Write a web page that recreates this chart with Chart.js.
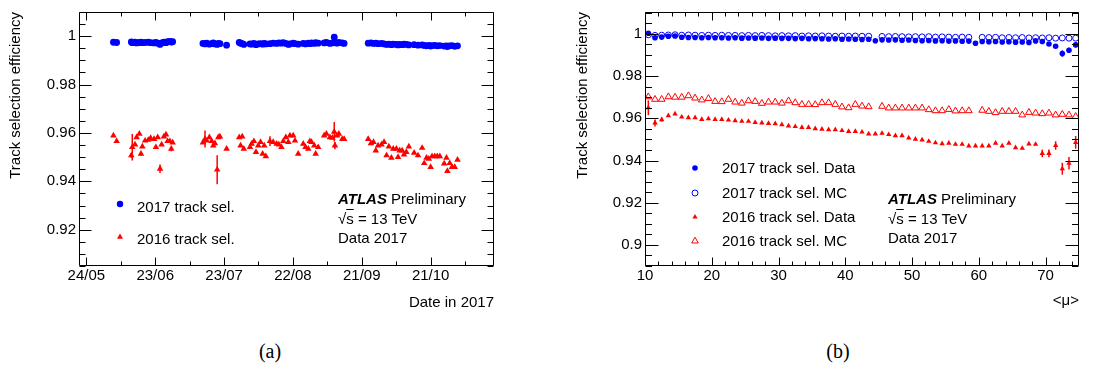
<!DOCTYPE html>
<html>
<head>
<meta charset="utf-8">
<script src="https://cdn.jsdelivr.net/npm/chart.js@4.4.1/dist/chart.umd.min.js"></script>
<style>
  html, body { margin: 0; padding: 0; background: #fff; }
  #page { position: relative; width: 1093px; height: 365px; overflow: hidden; font-family: "Liberation Sans", Arial, sans-serif; color: #000; }
  canvas { position: absolute; top: 0; }
  #chartA { left: 0; }
  #chartB { left: 560px; }
  .txt { position: absolute; font-size: 15px; line-height: 18px; white-space: nowrap; }
  .atlas { font-weight: bold; font-style: italic; }
  .ovl { text-decoration: overline; }
  .mk { position: absolute; width: 10px; height: 10px; }
  .cap { position: absolute; font-family: "Liberation Serif", "Times New Roman", serif; font-size: 20px; line-height: 24px; width: 60px; text-align: center; }
</style>
</head>
<body>
<div id="page">
  <canvas id="chartA" width="546" height="320"></canvas>
  <canvas id="chartB" width="533" height="320"></canvas>

  <!-- panel (a) legend + label -->
  <svg class="mk" style="left:115px; top:199px"><circle cx="5" cy="5" r="3.2" fill="#0000ff"/></svg>
  <div class="txt" style="left:137px; top:198px">2017 track sel.</div>
  <svg class="mk" style="left:115px; top:232px"><polygon points="5,1.6 8,6.8 2,6.8" fill="#ff0000"/></svg>
  <div class="txt" style="left:137px; top:230px">2016 track sel.</div>
  <div class="txt" style="left:338px; top:190px"><span class="atlas">ATLAS</span> Preliminary</div>
  <div class="txt" style="left:338px; top:210px">√<span class="ovl">s</span> = 13 TeV</div>
  <div class="txt" style="left:338px; top:229px">Data 2017</div>

  <!-- panel (b) legend + label -->
  <svg class="mk" style="left:690px; top:163px"><circle cx="5" cy="5" r="2.8" fill="#0000ff"/></svg>
  <div class="txt" style="left:722px; top:159px">2017 track sel. Data</div>
  <svg class="mk" style="left:690px; top:188px"><circle cx="5" cy="5" r="3" fill="none" stroke="#0000ff" stroke-width="1"/></svg>
  <div class="txt" style="left:722px; top:184px">2017 track sel. MC</div>
  <svg class="mk" style="left:690px; top:212px"><polygon points="5,2 7.6,6.5 2.4,6.5" fill="#ff0000"/></svg>
  <div class="txt" style="left:722px; top:208px">2016 track sel. Data</div>
  <svg class="mk" style="left:690px; top:236px"><polygon points="5,1.2 8.3,7 1.7,7" fill="none" stroke="#ff0000" stroke-width="1"/></svg>
  <div class="txt" style="left:722px; top:232px">2016 track sel. MC</div>
  <div class="txt" style="left:888px; top:190px"><span class="atlas">ATLAS</span> Preliminary</div>
  <div class="txt" style="left:888px; top:210px">√<span class="ovl">s</span> = 13 TeV</div>
  <div class="txt" style="left:888px; top:229px">Data 2017</div>

  <div class="cap" style="left:240px; top:339px">(a)</div>
  <div class="cap" style="left:808px; top:339px">(b)</div>
</div>

<script>
const FONT = '"Liberation Sans", Arial, sans-serif';
const BLUE = '#0000ff';
const RED = '#ff0000';

// ---- panel (a): per-run efficiency, x = days after 24/05/2017 ----
const dateTickDays = [0, 30, 60, 90, 120, 150];
const dateTickLabels = ['24/05', '23/06', '23/07', '22/08', '21/09', '21/10'];
const effTickValuesA = [0.92, 0.94, 0.96, 0.98, 1.0];
const effTickLabelsA = ['0.92', '0.94', '0.96', '0.98', '1'];

const runDay = [
  11.8, 13.2,
  19.6, 20.0, 21.2, 21.9, 23.1, 23.8, 24.4, 25.6, 27.0, 28.0, 29.5, 30.3, 31.1, 32.1, 32.8, 33.8, 34.7, 35.4, 36.4, 37.0, 37.6,
  50.8, 51.7, 52.4, 53.6, 54.6, 55.3, 56.0, 57.0, 57.5, 58.2, 61.1,
  66.6, 67.2, 67.9, 68.6, 71.3, 72.0, 73.0, 73.9, 74.9, 75.9, 76.8, 77.5, 78.2, 80.0, 81.4, 82.9, 83.9, 85.0, 85.8, 86.9,
  88.0, 88.7, 90.1, 90.9, 92.3, 94.5, 95.5, 96.7, 97.4, 98.1, 99.3, 99.9, 101.0, 103.6, 104.6, 106.1, 107.2, 108.0, 108.3,
  109.2, 110.0, 111.5, 112.3,
  122.8, 124.0, 125.1, 126.1, 127.1, 128.6, 129.7, 130.8, 131.8, 132.9, 133.7, 135.1, 135.8, 136.5, 137.6, 138.4, 139.4,
  140.5, 142.8, 144.5, 146.3, 147.2, 148.2, 149.2, 150.0, 150.6, 151.8, 152.9, 154.0, 155.9, 156.9, 157.3, 158.3, 159.3,
  160.5, 161.7
];
const runEff2017 = [
  0.9975, 0.9974,
  0.9976, 0.9973, 0.9975, 0.9972, 0.9974, 0.9975, 0.9973, 0.9974, 0.9975, 0.9973, 0.9972, 0.9974, 0.9971, 0.9966, 0.9972,
  0.9975, 0.9973, 0.9977, 0.9978, 0.9976, 0.9977,
  0.9970, 0.9968, 0.9971, 0.9967, 0.9969, 0.9972, 0.9968, 0.9966, 0.9970, 0.9969, 0.9963,
  0.9974, 0.9971, 0.9969, 0.9966, 0.9968, 0.9967, 0.9970, 0.9965, 0.9968, 0.9969, 0.9967, 0.9970, 0.9968, 0.9969, 0.9971,
  0.9970, 0.9972, 0.9971, 0.9973, 0.9970, 0.9966, 0.9968, 0.9971, 0.9969, 0.9967, 0.9970, 0.9968, 0.9971, 0.9969, 0.9972,
  0.9970, 0.9973, 0.9971, 0.9972, 0.9974, 0.9970, 0.9972, 0.9996, 0.9973, 0.9971, 0.9974, 0.9972, 0.9970,
  0.9971, 0.9972, 0.9970, 0.9971, 0.9969, 0.9970, 0.9968, 0.9966, 0.9967, 0.9965, 0.9967, 0.9966, 0.9964, 0.9966, 0.9965,
  0.9967, 0.9966, 0.9964, 0.9965, 0.9963, 0.9964, 0.9962, 0.9960, 0.9962, 0.9959, 0.9961, 0.9962, 0.9960, 0.9961, 0.9959,
  0.9960, 0.9957, 0.9960, 0.9961, 0.9958, 0.9960
];
const runErr2017 = [
  0, 0,
  0, 0, 0, 0, 0, 0, 0, 0, 0, 0, 0, 0, 0, 0.0006, 0, 0, 0, 0, 0, 0, 0,
  0, 0, 0, 0, 0, 0, 0, 0.0006, 0, 0, 0,
  0, 0, 0, 0, 0, 0, 0, 0, 0, 0, 0, 0, 0, 0, 0, 0, 0, 0, 0, 0, 0, 0, 0, 0, 0, 0, 0, 0, 0, 0, 0, 0, 0, 0, 0, 0, 0, 0.0004, 0,
  0, 0, 0, 0,
  0, 0, 0, 0, 0, 0, 0, 0, 0, 0, 0, 0, 0, 0, 0, 0, 0, 0, 0, 0, 0, 0, 0, 0, 0, 0, 0, 0, 0, 0, 0, 0, 0, 0, 0, 0.0004
];
const runEff2016 = [
  0.9589, 0.9566,
  0.9507, 0.9541, 0.9552, 0.9582, 0.9596, 0.9514, 0.9544, 0.9568, 0.9571, 0.9579, 0.9575, 0.9541, 0.9582, 0.9452, 0.9552,
  0.9585, 0.9593, 0.9566, 0.9566, 0.9534, 0.9560,
  0.9560, 0.9575, 0.9568, 0.9582, 0.9566, 0.9548, 0.9557, 0.9448, 0.9582, 0.9585, 0.9534,
  0.9582, 0.9548, 0.9585, 0.9534, 0.9541, 0.9555, 0.9566, 0.9521, 0.9548, 0.9562, 0.9514, 0.9548, 0.9503, 0.9566, 0.9562,
  0.9555, 0.9552, 0.9541, 0.9566, 0.9582, 0.9562, 0.9589, 0.9589, 0.9568, 0.9514, 0.9555, 0.9541, 0.9534, 0.9566, 0.9562,
  0.9548, 0.9514, 0.9541, 0.9589, 0.9596, 0.9582, 0.9580, 0.9605, 0.9548, 0.9589, 0.9596, 0.9575, 0.9575,
  0.9575, 0.9557, 0.9562, 0.9527, 0.9548, 0.9552, 0.9562, 0.9507, 0.9544, 0.9497, 0.9534, 0.9534, 0.9500, 0.9527, 0.9527,
  0.9511, 0.9521, 0.9544, 0.9518, 0.9507, 0.9538, 0.9475, 0.9497, 0.9493, 0.9459, 0.9503, 0.9503, 0.9503, 0.9503, 0.9473,
  0.9497, 0.9442, 0.9475, 0.9459, 0.9459, 0.9489
];
const runErr2016 = [
  0, 0,
  0.0010, 0.0055, 0, 0, 0, 0.0008, 0, 0, 0, 0, 0, 0, 0, 0.0018, 0, 0, 0, 0, 0, 0.0010, 0,
  0, 0.0035, 0, 0, 0, 0, 0, 0.0060, 0, 0, 0,
  0, 0, 0, 0, 0, 0, 0, 0, 0, 0, 0, 0, 0, 0.0020, 0, 0, 0, 0, 0, 0, 0, 0, 0, 0, 0, 0, 0, 0, 0, 0, 0, 0, 0, 0, 0, 0, 0,
  0.0040, 0.0015, 0, 0, 0, 0,
  0, 0, 0, 0, 0, 0, 0, 0, 0, 0, 0, 0, 0, 0, 0, 0, 0, 0, 0, 0, 0, 0, 0, 0, 0, 0, 0, 0, 0, 0, 0, 0.0008, 0, 0, 0, 0
];

// ---- panel (b): efficiency vs <mu>, one point per unit bin ----
const muBins = [
  10.5, 11.5, 12.5, 13.5, 14.5, 15.5, 16.5, 17.5, 18.5, 19.5, 20.5, 21.5, 22.5, 23.5, 24.5, 25.5, 26.5, 27.5, 28.5, 29.5,
  30.5, 31.5, 32.5, 33.5, 34.5, 35.5, 36.5, 37.5, 38.5, 39.5, 40.5, 41.5, 42.5, 43.5, 44.5, 45.5, 46.5, 47.5, 48.5, 49.5,
  50.5, 51.5, 52.5, 53.5, 54.5, 55.5, 56.5, 57.5, 58.5, 59.5, 60.5, 61.5, 62.5, 63.5, 64.5, 65.5, 66.5, 67.5, 68.5, 69.5,
  70.5, 71.5, 72.5, 73.5, 74.5
];
const muTickValues = [10, 20, 30, 40, 50, 60, 70];
const muTickLabels = ['10', '20', '30', '40', '50', '60', '70'];
const effTickValuesB = [0.9, 0.92, 0.94, 0.96, 0.98, 1.0];
const effTickLabelsB = ['0.9', '0.92', '0.94', '0.96', '0.98', '1'];

const mu2017Data = [
  1.0003, 0.9982, 0.9985, 0.9989, 0.9990, 0.9984, 0.9983, 0.9983, 0.9982, 0.9983,
  0.9982, 0.9982, 0.9981, 0.9982, 0.9980, 0.9981, 0.9980, 0.9981, 0.9979, 0.9980,
  0.9979, 0.9979, 0.9978, 0.9979, 0.9977, 0.9978, 0.9977, 0.9976, 0.9977, 0.9975,
  0.9976, 0.9975, 0.9974, 0.9975, 0.9968, 0.9972, 0.9971, 0.9972, 0.9970, 0.9971,
  0.9969, 0.9968, 0.9969, 0.9967, 0.9968, 0.9966, 0.9967, 0.9965, 0.9966, 0.9956,
  0.9964, 0.9963, 0.9964, 0.9962, 0.9963, 0.9961, 0.9962, 0.9960, 0.9967, 0.9964,
  0.9952, 0.9942, 0.9907, 0.9923, 0.9948
];
const mu2017DataErr = [
  0.0008, 0, 0, 0, 0, 0, 0, 0, 0, 0, 0, 0, 0, 0, 0, 0, 0, 0, 0, 0, 0, 0, 0, 0, 0, 0, 0, 0, 0, 0, 0, 0, 0, 0, 0, 0, 0, 0, 0, 0,
  0, 0, 0, 0, 0, 0, 0, 0, 0, 0, 0, 0, 0, 0, 0, 0, 0, 0, 0, 0, 0.0004, 0.0006, 0.0015, 0.0012, 0.0012
];
const mu2017MC = [
  0.9996, 0.9993, 0.9994, 0.9995, 0.9996, 0.9994, 0.9995, 0.9994, 0.9993, 0.9994,
  0.9993, 0.9994, 0.9993, 0.9993, 0.9992, 0.9993, 0.9992, 0.9993, 0.9992, 0.9991,
  0.9992, 0.9991, 0.9992, 0.9990, 0.9991, 0.9990, 0.9991, 0.9990, 0.9989, 0.9990,
  0.9989, 0.9990, 0.9989, 0.9989, null, 0.9988, 0.9987, 0.9988, 0.9987, 0.9986,
  0.9987, 0.9986, 0.9987, 0.9985, 0.9986, 0.9985, 0.9984, 0.9985, 0.9984, null,
  0.9984, 0.9983, 0.9984, 0.9982, 0.9983, 0.9982, 0.9983, 0.9981, 0.9982, 0.9981,
  0.9982, 0.9980, 0.9981, 0.9980, 0.9980
];
const mu2016Data = [
  0.9650, 0.9578, 0.9594, 0.9613, 0.9621, 0.9606, 0.9603, 0.9603, 0.9595, 0.9598,
  0.9595, 0.9595, 0.9592, 0.9589, 0.9586, 0.9586, 0.9581, 0.9578, 0.9576, 0.9575,
  0.9570, 0.9564, 0.9561, 0.9557, 0.9557, 0.9551, 0.9549, 0.9546, 0.9546, 0.9542,
  0.9538, 0.9538, 0.9535, 0.9526, 0.9526, 0.9529, 0.9523, 0.9518, 0.9518, 0.9507,
  0.9501, 0.9498, 0.9491, 0.9484, 0.9480, 0.9482, 0.9477, 0.9477, 0.9469, 0.9469,
  0.9469, 0.9469, 0.9482, 0.9469, 0.9482, 0.9461, 0.9458, 0.9479, 0.9477, 0.9434,
  0.9434, 0.9471, 0.9361, 0.9387, 0.9486
];
const mu2016DataErr = [
  0.0035, 0.0017, 0.0010, 0, 0, 0, 0, 0, 0, 0, 0, 0, 0, 0, 0, 0, 0, 0, 0, 0, 0, 0, 0, 0, 0, 0, 0, 0, 0, 0, 0, 0, 0, 0, 0, 0,
  0, 0, 0, 0, 0, 0, 0, 0, 0, 0, 0, 0, 0, 0, 0, 0, 0, 0, 0, 0, 0, 0, 0, 0.0018, 0.0018, 0.0020, 0.0028, 0.0030, 0.0030
];
const mu2016MC = [
  0.9702, 0.9690, 0.9690, 0.9702, 0.9700, 0.9700, 0.9707, 0.9696, 0.9687, 0.9694,
  0.9680, 0.9679, 0.9690, 0.9677, 0.9672, 0.9683, 0.9680, 0.9671, 0.9677, 0.9677,
  0.9672, 0.9683, 0.9674, 0.9666, 0.9666, 0.9665, 0.9674, 0.9674, 0.9666, 0.9654,
  0.9650, 0.9666, 0.9658, 0.9655, null, 0.9657, 0.9649, 0.9649, 0.9649, 0.9649,
  0.9649, 0.9649, 0.9641, 0.9636, 0.9636, 0.9642, 0.9635, 0.9636, 0.9636, null,
  0.9638, 0.9633, 0.9627, 0.9633, 0.9633, 0.9633, 0.9616, 0.9628, 0.9625, 0.9622,
  0.9625, 0.9616, 0.9619, 0.9616, 0.9609
];

function toPoints(xs, ys, errs) {
  return xs
    .map((x, i) => ({ x, y: ys[i], e: errs ? errs[i] : 0 }))
    .filter(p => p.y !== null);
}

// vertical error bars, drawn under the markers
const errorBars = {
  id: 'errorBars',
  beforeDatasetsDraw(chart) {
    const { ctx, chartArea: a } = chart;
    const xs = chart.scales.x, ys = chart.scales.y;
    ctx.save();
    ctx.beginPath();
    ctx.rect(a.left, a.top, a.right - a.left, a.bottom - a.top);
    ctx.clip();
    ctx.lineWidth = 1.5;
    chart.data.datasets.forEach(ds => {
      ctx.strokeStyle = ds.borderColor;
      ds.data.forEach(p => {
        if (!p.e) return;
        const px = xs.getPixelForValue(p.x);
        ctx.beginPath();
        ctx.moveTo(px, ys.getPixelForValue(p.y - p.e));
        ctx.lineTo(px, ys.getPixelForValue(p.y + p.e));
        ctx.stroke();
      });
    });
    ctx.restore();
  }
};

// ROOT-like frame with inward ticks on all four sides
const rootFrame = {
  id: 'rootFrame',
  afterDatasetsDraw(chart, args, opts) {
    const { ctx, chartArea: a } = chart;
    const xs = chart.scales.x, ys = chart.scales.y;
    const L = Math.round(a.left) + 0.5, R = Math.round(a.right) - 0.5;
    const T = Math.round(a.top) + 0.5, B = Math.round(a.bottom) - 0.5;
    ctx.save();
    ctx.strokeStyle = '#000';
    ctx.lineWidth = 1;
    ctx.beginPath();
    ctx.rect(L, T, R - L, B - T);

    const k0x = Math.ceil(xs.min / opts.xMinor - 1e-9), k1x = Math.floor(xs.max / opts.xMinor + 1e-9);
    for (let k = k0x; k <= k1x; k++) {
      const len = k % opts.xRatio === 0 ? opts.xLen : opts.xLen / 2;
      const p = Math.round(xs.getPixelForValue(k * opts.xMinor)) + 0.5;
      ctx.moveTo(p, B); ctx.lineTo(p, B - len);
      ctx.moveTo(p, T); ctx.lineTo(p, T + len);
    }
    const k0y = Math.ceil(ys.min / opts.yMinor - 1e-9), k1y = Math.floor(ys.max / opts.yMinor + 1e-9);
    for (let k = k0y; k <= k1y; k++) {
      const len = k % opts.yRatio === 0 ? opts.yLen : opts.yLen / 2;
      const p = Math.round(ys.getPixelForValue(k * opts.yMinor)) + 0.5;
      ctx.moveTo(L, p); ctx.lineTo(L + len, p);
      ctx.moveTo(R, p); ctx.lineTo(R - len, p);
    }
    ctx.stroke();
    ctx.restore();
  }
};

function axis({ min, max, values, labels, title, titlePad, size, isX }) {
  return {
    type: 'linear',
    min, max,
    afterBuildTicks: s => { s.ticks = values.map(v => ({ value: v })); },
    afterFit: s => { if (isX) s.height = size; else s.width = size; },
    grid: { display: false, drawTicks: false },
    border: { display: false },
    ticks: {
      autoSkip: false, maxRotation: 0, padding: isX ? 1 : 3, color: '#000',
      font: { family: FONT, size: 15 },
      callback: v => labels[values.indexOf(v)]
    },
    title: {
      display: true, text: title, align: 'end', color: '#000',
      font: { family: FONT, size: 15 },
      padding: isX ? { top: 0, bottom: titlePad } : { top: titlePad, bottom: 0 }
    }
  };
}

function baseOptions(pad, frame, xAxis, yAxis) {
  return {
    responsive: false,
    animation: false,
    events: [],
    layout: { padding: pad },
    plugins: { legend: { display: false }, tooltip: { enabled: false }, rootFrame: frame },
    scales: { x: xAxis, y: yAxis }
  };
}

new Chart(document.getElementById('chartA'), {
  type: 'scatter',
  data: {
    datasets: [
      { label: '2017 track sel.', data: toPoints(runDay, runEff2017, runErr2017),
        pointStyle: 'circle', pointRadius: 3.4, borderWidth: 0, backgroundColor: BLUE, borderColor: BLUE },
      { label: '2016 track sel.', data: toPoints(runDay, runEff2016, runErr2016),
        pointStyle: 'triangle', pointRadius: 3.8, borderWidth: 0, backgroundColor: RED, borderColor: RED }
    ]
  },
  options: baseOptions(
    { left: 0, top: 11, right: 52, bottom: 0 },
    { xMinor: 15, xRatio: 2, xLen: 8, yMinor: 0.005, yRatio: 4, yLen: 12 },
    axis({ min: -3.2, max: 177.6, values: dateTickDays, labels: dateTickLabels, title: 'Date in 2017', titlePad: 8, size: 54, isX: true }),
    axis({ min: 0.905, max: 1.01, values: effTickValuesA, labels: effTickLabelsA, title: 'Track selection efficiency', titlePad: 6.5, size: 79, isX: false })
  ),
  plugins: [errorBars, rootFrame]
});

new Chart(document.getElementById('chartB'), {
  type: 'scatter',
  data: {
    datasets: [
      { label: '2017 track sel. MC', data: toPoints(muBins, mu2017MC),
        pointStyle: 'circle', pointRadius: 3, borderWidth: 1, backgroundColor: 'rgba(0,0,0,0)', borderColor: BLUE },
      { label: '2017 track sel. Data', data: toPoints(muBins, mu2017Data, mu2017DataErr),
        pointStyle: 'circle', pointRadius: 2.8, borderWidth: 0, backgroundColor: BLUE, borderColor: BLUE },
      { label: '2016 track sel. MC', data: toPoints(muBins, mu2016MC),
        pointStyle: 'triangle', pointRadius: 3.9, borderWidth: 1, backgroundColor: 'rgba(0,0,0,0)', borderColor: RED },
      { label: '2016 track sel. Data', data: toPoints(muBins, mu2016Data, mu2016DataErr),
        pointStyle: 'triangle', pointRadius: 3.1, borderWidth: 0, backgroundColor: RED, borderColor: RED }
    ]
  },
  options: baseOptions(
    { left: 0, top: 11, right: 14, bottom: 0 },
    { xMinor: 2, xRatio: 5, xLen: 8, yMinor: 0.005, yRatio: 4, yLen: 13 },
    axis({ min: 10, max: 75, values: muTickValues, labels: muTickLabels, title: '<μ>', titlePad: 10, size: 54, isX: true }),
    axis({ min: 0.89, max: 1.0104, values: effTickValuesB, labels: effTickLabelsB, title: 'Track selection efficiency', titlePad: 13.5, size: 85, isX: false })
  ),
  plugins: [errorBars, rootFrame]
});
</script>
</body>
</html>
